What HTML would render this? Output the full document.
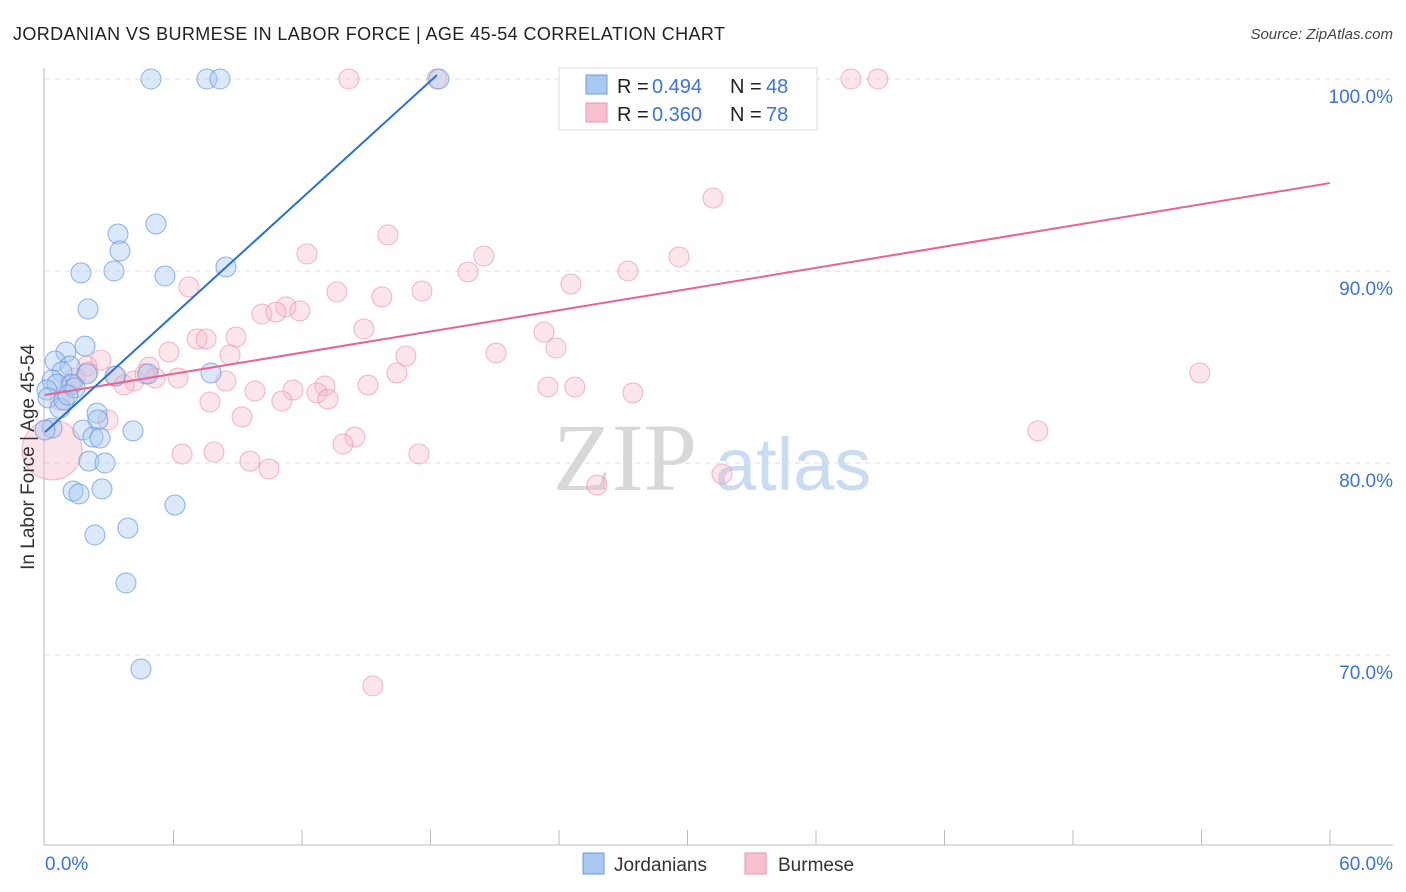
<!DOCTYPE html>
<html><head><meta charset="utf-8">
<style>
body{margin:0;background:#fff;font-family:"Liberation Sans",sans-serif;}
svg{display:block}
</style></head>
<body>
<svg id="chart" width="1406" height="892" xmlns="http://www.w3.org/2000/svg">
<text x="13" y="40" font-size="18" fill="#222" textLength="712">JORDANIAN VS BURMESE IN LABOR FORCE | AGE 45-54 CORRELATION CHART</text>
<text x="1393" y="39" font-size="15" fill="#444" font-style="italic" text-anchor="end">Source: ZipAtlas.com</text>
<g>
<text x="553" y="490" font-size="96" font-family="Liberation Serif,serif" fill="#d8d8d8">ZIP</text>
<text x="715" y="490" font-size="74" fill="#c9dcf2">atlas</text>
</g>
<g id="grid"></g>
<g id="axes"></g>
<g id="points"></g>
<g id="trends"></g>
<text transform="translate(34,457) rotate(-90)" font-size="19" fill="#333" text-anchor="middle">In Labor Force | Age 45-54</text>
<g>
<rect x="559" y="68" width="258" height="62" fill="#fff" stroke="#ddd"/>
<rect x="586" y="75" width="21" height="19" fill="#a9c8f0" stroke="#6b9be0"/>
<text x="617" y="93" font-size="20" fill="#222">R =</text>
<text x="652" y="93" font-size="20" fill="#3b73d6">0.494</text>
<text x="730" y="93" font-size="20" fill="#222">N =</text>
<text x="766" y="93" font-size="20" fill="#3b73d6">48</text>
<rect x="586" y="103" width="21" height="19" fill="#f9c0d0" stroke="#ec93b0"/>
<text x="617" y="121" font-size="20" fill="#222">R =</text>
<text x="652" y="121" font-size="20" fill="#3b73d6">0.360</text>
<text x="730" y="121" font-size="20" fill="#222">N =</text>
<text x="766" y="121" font-size="20" fill="#3b73d6">78</text>
</g>
<g>
<rect x="583" y="853" width="21" height="21" fill="#a9c8f0" stroke="#6b9be0"/>
<text x="614" y="871" font-size="19" fill="#333">Jordanians</text>
<rect x="745" y="853" width="21" height="21" fill="#f9c0d0" stroke="#ec93b0"/>
<text x="778" y="871" font-size="19" fill="#333">Burmese</text>
</g>
</svg>
<script>
const yTicks=[70,80,90,100];
const yTickLabels=["70.0%","80.0%","90.0%","100.0%"];
const xTickLabels=["0.0%","60.0%"];
const blueX=[4.95,7.56,8.17,18.39,5.18,3.41,3.50,1.68,3.22,5.60,8.45,2.01,1.87,0.98,0.47,1.17,0.79,0.33,0.56,0.09,1.26,0.14,0.70,0.89,1.96,3.27,4.81,7.75,2.43,2.47,1.77,2.24,2.57,4.11,2.05,2.80,1.31,1.59,2.66,6.07,3.87,2.33,3.78,4.48,0.33,1.40,1.07,0];
const blueY=[100,100,100,100,92.45,91.93,91.04,89.9,90.0,89.74,90.21,88.02,86.09,85.78,85.31,85.05,84.74,84.32,84.11,83.8,84.11,83.39,82.86,83.28,84.64,84.53,84.64,84.69,82.6,82.24,81.72,81.35,81.3,81.67,80.1,80.0,78.54,78.39,78.65,77.81,76.61,76.25,73.75,69.27,81.82,83.91,83.54,81.72];
const pinkX=[14.19,18.30,24.88,29.46,37.63,38.89,31.19,16.01,12.23,20.49,19.75,29.60,27.22,24.56,6.72,13.63,17.60,15.73,11.25,10.13,10.78,11.90,14.89,8.92,7.10,7.52,5.79,8.64,21.06,16.85,23.30,23.86,2.61,1.96,4.86,3.31,5.14,6.21,4.15,3.69,1.17,8.45,16.43,15.08,13.07,9.80,11.58,12.70,11.06,13.21,7.70,23.48,24.74,27.45,53.92,2.94,9.20,14.47,13.91,6.40,7.89,9.57,10.46,17.46,25.77,31.61,46.36,15.31,0.70,2.01,4.67,1.40,0.33];
const pinkY=[100,100,100,100,100,100,93.80,91.88,90.89,90.78,89.95,90.73,90.0,89.32,89.17,88.91,88.96,88.65,88.13,87.76,87.86,87.92,86.98,86.56,86.46,86.46,85.78,85.63,85.73,85.57,86.82,85.99,85.36,85.05,85.0,84.53,84.43,84.43,84.27,84.06,84.06,84.27,84.69,84.06,84.01,83.75,83.8,83.65,83.23,83.33,83.18,83.96,83.96,83.65,84.69,82.24,82.40,81.35,80.99,80.47,80.57,80.10,79.69,80.47,78.85,79.43,81.67,68.39,83.28,84.74,84.64,84.43,80.68];
const blueTrend=[81.61,1.016,0,18.3];
const pinkTrend=[83.54,0.184,0,60];

const NS="http://www.w3.org/2000/svg";
const X0=45,X1=1330,Y100=79,PXY=19.2;
function sx(v){return X0+(X1-X0)*v/60;}
function sy(v){return Y100+(100-v)*PXY;}
function mk(tag,attrs,parent){const e=document.createElementNS(NS,tag);for(const k in attrs)e.setAttribute(k,attrs[k]);parent.appendChild(e);return e;}
const grid=document.getElementById('grid'),axes=document.getElementById('axes'),pts=document.getElementById('points'),tr=document.getElementById('trends');
yTicks.forEach((t,i)=>{
 const l=mk('line',{x1:45,x2:1393,y1:sy(t),y2:sy(t),stroke:'#ddd','stroke-dasharray':'5,5'},grid);
 
 
 const tx=mk('text',{x:1393,y:sy(t)+24,'font-size':19,fill:'#3b73d6','text-anchor':'end'},grid);
 tx.textContent=yTickLabels[i];
 
 
});
let a=mk('line',{x1:44,x2:44,y1:68,y2:845,stroke:'#bbb'},axes);


a=mk('line',{x1:44,x2:1393,y1:845,y2:845,stroke:'#bbb'},axes);


for(let v=6;v<=60;v+=6){
 const t=mk('line',{x1:sx(v),x2:sx(v),y1:830,y2:845,stroke:'#bbb'},axes);
 
 
}
let xl=mk('text',{x:45,y:870,'font-size':19,fill:'#3b73d6'},axes);xl.textContent=xTickLabels[0];


xl=mk('text',{x:1393,y:870,'font-size':19,fill:'#3b73d6','text-anchor':'end'},axes);xl.textContent=xTickLabels[1];


pinkX.forEach((x,i)=>{
 const big=i===pinkX.length-1;
 const c=mk('circle',{cx:sx(x),cy:sy(pinkY[i]),r:big?30:10,fill:'#f7b6c8','fill-opacity':big?0.4:0.35,stroke:'#e98fae','stroke-opacity':0.65,'stroke-width':1},pts);
 
 
});
blueX.forEach((x,i)=>{
 const c=mk('circle',{cx:sx(x),cy:sy(blueY[i]),r:10,fill:'#a9c8f0','fill-opacity':0.42,stroke:'#5f93de','stroke-opacity':0.7,'stroke-width':1},pts);
 
 
});
function trend(p,col,name){
 const l=mk('line',{x1:sx(p[2]),y1:sy(p[0]+p[1]*p[2]),x2:sx(p[3]),y2:sy(p[0]+p[1]*p[3]),stroke:col,'stroke-width':2},tr);
 
 
}
trend(pinkTrend,'#e8638f','burmese-trend-line');
trend(blueTrend,'#2a6fd8','jordanian-trend-line');
</script>
</body></html>
